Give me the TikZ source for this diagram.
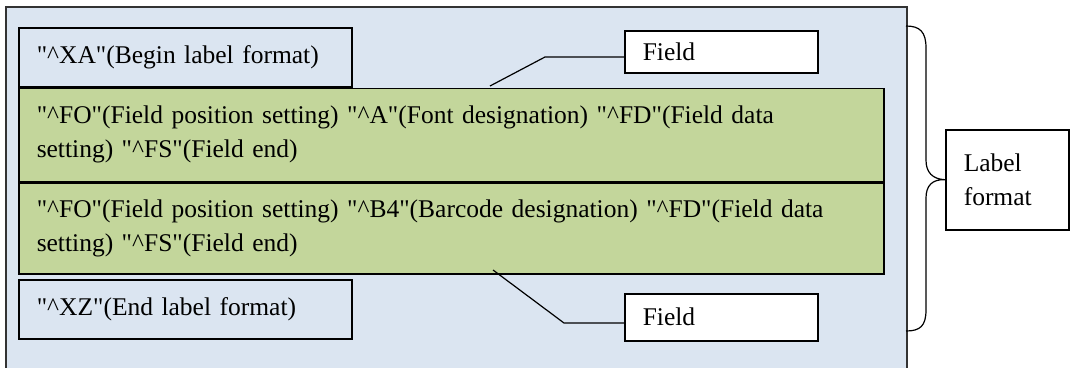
\documentclass[tikz,border=0pt]{standalone}
\usepackage{fontspec}
\setmainfont{Liberation Serif}
\usepackage{tikz}
\usetikzlibrary{positioning}
\definecolor{paleblue}{RGB}{219,229,241}
\definecolor{palegreen}{RGB}{195,214,155}
\newcommand{\cmd}[1]{\textquotedbl\textasciicircum #1\textquotedbl}

\begin{document}
\begin{tikzpicture}[x=1pt, y=-1pt, font=\fontsize{25.5}{34}\selectfont]
            \tikzset{
                frame_box/.style={draw=black!80, fill=paleblue, line width=1.5pt, anchor=north west, inner sep=0pt},
                cmd_box/.style={draw, fill=paleblue, line width=1.5pt, anchor=north west, inner xsep=18pt, inner ysep=0pt, text width=297pt, minimum height=59pt, align=left},
                field_box/.style={draw, fill=palegreen, line width=1.5pt, anchor=north west, inner xsep=18pt, inner ysep=0pt, text width=829pt, align=left},
                note_box/.style={draw, fill=white, line width=1.5pt, anchor=north west, inner xsep=18pt, inner ysep=0pt, align=left},
                link/.style={draw, line width=1.2pt}
            }
            \useasboundingbox (0,0) rectangle (1070,367);
            \node[frame_box, minimum width=901pt, minimum height=372pt] (frame) at (5,6) {};
            \node[cmd_box] (xa) at (18,27) {\cmd{XA}(Begin label format)};
            \node[field_box, minimum height=93pt, below=0pt of xa.south west, anchor=north west] (fld1)
                {\cmd{FO}(Field position setting) \cmd{A}(Font designation) \cmd{FD}(Field data\\setting) \cmd{FS}(Field end)};
            \node[field_box, minimum height=91pt, below=0pt of fld1.south west, anchor=north west] (fld2)
                {\cmd{FO}(Field position setting) \cmd{B4}(Barcode designation) \cmd{FD}(Field data\\setting) \cmd{FS}(Field end)};
            \node[cmd_box] (xz) at (18,279) {\cmd{XZ}(End label format)};
            \node[note_box, text width=157pt, minimum height=42pt] (note1) at (624,30) {Field};
            \node[note_box, text width=157pt, minimum height=47pt] (note2) at (624,293) {Field};
            \node[note_box, text width=87pt, minimum height=100pt] (lbl) at (945,129) {Label\\format};
            % leader lines to the field notes
            \coordinate (tap1) at (490,86);
            \coordinate (bend1) at (545,57);
            \coordinate (tap2) at (493,270);
            \coordinate (bend2) at (564,323);
            \path[link] (tap1) -- (bend1) -- (bend1 -| note1.west);
            \path[link] (tap2) -- (bend2) -- (bend2 -| note2.west);
            % brace round the whole label
            \coordinate (brtop) at (906,26);
            \coordinate (brbot) at (906,331);
            \draw[line width=1.2pt] (brtop) .. controls (920,26) and (926,32) .. (926,48) -- (926,160)
                .. controls (926,172) and (932,179) .. (lbl.west)
                .. controls (932,179) and (926,186) .. (926,198) -- (926,310)
                .. controls (926,326) and (920,331) .. (brbot);
        \end{tikzpicture}
\end{document}
